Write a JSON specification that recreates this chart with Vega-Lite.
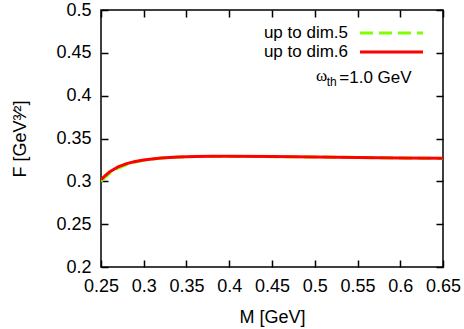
{
  "$schema": "https://vega.github.io/schema/vega-lite/v6.json",
  "width": 342,
  "height": 257,
  "autosize": {"type": "none"},
  "padding": {"left": 101, "top": 10, "right": 21, "bottom": 62},
  "background": "white",
  "config": {
    "view": {"stroke": "black", "strokeWidth": 1.5},
    "font": "Liberation Sans",
    "axis": {
      "domain": false,
      "grid": false,
      "tickColor": "black",
      "tickWidth": 1.5,
      "tickSize": -7,
      "labelPadding": 17,
      "labelFontSize": 18,
      "labelColor": "black",
      "labelFont": "Liberation Sans",
      "labelFlush": false,
      "labelOverlap": false,
      "titleFontSize": 18,
      "titleFontWeight": "normal",
      "titleColor": "black",
      "titleFont": "Liberation Sans"
    }
  },
  "datasets": {
    "curves": [
      {"M": 0.25, "F": 0.300, "series": "up to dim.5"},
      {"M": 0.255, "F": 0.3048, "series": "up to dim.5"},
      {"M": 0.26, "F": 0.3092, "series": "up to dim.5"},
      {"M": 0.27, "F": 0.3155, "series": "up to dim.5"},
      {"M": 0.28, "F": 0.3195, "series": "up to dim.5"},
      {"M": 0.29, "F": 0.3226, "series": "up to dim.5"},
      {"M": 0.30, "F": 0.3247, "series": "up to dim.5"},
      {"M": 0.31, "F": 0.3260, "series": "up to dim.5"},
      {"M": 0.32, "F": 0.3270, "series": "up to dim.5"},
      {"M": 0.34, "F": 0.3282, "series": "up to dim.5"},
      {"M": 0.36, "F": 0.3289, "series": "up to dim.5"},
      {"M": 0.38, "F": 0.3291, "series": "up to dim.5"},
      {"M": 0.40, "F": 0.3291, "series": "up to dim.5"},
      {"M": 0.45, "F": 0.3288, "series": "up to dim.5"},
      {"M": 0.50, "F": 0.3284, "series": "up to dim.5"},
      {"M": 0.55, "F": 0.3278, "series": "up to dim.5"},
      {"M": 0.60, "F": 0.3272, "series": "up to dim.5"},
      {"M": 0.65, "F": 0.3267, "series": "up to dim.5"},
      {"M": 0.25, "F": 0.302, "series": "up to dim.6"},
      {"M": 0.255, "F": 0.3068, "series": "up to dim.6"},
      {"M": 0.26, "F": 0.3110, "series": "up to dim.6"},
      {"M": 0.27, "F": 0.3170, "series": "up to dim.6"},
      {"M": 0.28, "F": 0.3207, "series": "up to dim.6"},
      {"M": 0.29, "F": 0.3232, "series": "up to dim.6"},
      {"M": 0.30, "F": 0.3250, "series": "up to dim.6"},
      {"M": 0.31, "F": 0.3262, "series": "up to dim.6"},
      {"M": 0.32, "F": 0.3272, "series": "up to dim.6"},
      {"M": 0.34, "F": 0.3284, "series": "up to dim.6"},
      {"M": 0.36, "F": 0.3290, "series": "up to dim.6"},
      {"M": 0.38, "F": 0.3292, "series": "up to dim.6"},
      {"M": 0.40, "F": 0.3292, "series": "up to dim.6"},
      {"M": 0.45, "F": 0.3289, "series": "up to dim.6"},
      {"M": 0.50, "F": 0.3285, "series": "up to dim.6"},
      {"M": 0.55, "F": 0.3279, "series": "up to dim.6"},
      {"M": 0.60, "F": 0.3273, "series": "up to dim.6"},
      {"M": 0.65, "F": 0.3268, "series": "up to dim.6"}
    ]
  },
  "layer": [
    {
      "data": {"name": "curves"},
      "transform": [{"filter": "datum.series == 'up to dim.5'"}],
      "mark": {"type": "line", "color": "#7fff00", "strokeWidth": 3, "strokeDash": [13, 6], "clip": true},
      "encoding": {
        "x": {"field": "M", "type": "quantitative",
              "scale": {"domain": [0.25, 0.65], "nice": false, "zero": false},
              "axis": {"orient": "bottom", "values": [0.25, 0.3, 0.35, 0.4, 0.45, 0.5, 0.55, 0.6, 0.65], "format": "~g", "title": "M [GeV]", "titlePadding": 13}},
        "y": {"field": "F", "type": "quantitative",
              "scale": {"domain": [0.2, 0.5], "nice": false, "zero": false},
              "axis": {"orient": "left", "values": [0.2, 0.25, 0.3, 0.35, 0.4, 0.45, 0.5], "format": "~g", "title": "F [GeV³⁄²]", "titlePadding": 26}}
      }
    },
    {
      "data": {"name": "curves"},
      "transform": [{"filter": "datum.series == 'up to dim.6'"}],
      "mark": {"type": "line", "color": "#ff0000", "strokeWidth": 3, "clip": true},
      "encoding": {
        "x": {"field": "M", "type": "quantitative",
              "axis": {"orient": "top", "values": [0.25, 0.3, 0.35, 0.4, 0.45, 0.5, 0.55, 0.6, 0.65], "labels": false, "title": null}},
        "y": {"field": "F", "type": "quantitative",
              "axis": {"orient": "right", "values": [0.2, 0.25, 0.3, 0.35, 0.4, 0.45, 0.5], "labels": false, "title": null}}
      }
    },
    {
      "data": {"values": [{}]},
      "mark": {"type": "text", "text": "up to dim.5", "align": "right", "baseline": "middle", "fontSize": 17, "font": "Liberation Sans", "color": "black"},
      "encoding": {
        "x": {"datum": 0.5389, "type": "quantitative", "axis": null},
        "y": {"datum": 0.4731, "type": "quantitative", "axis": null}
      }
    },
    {
      "data": {"values": [{}]},
      "mark": {"type": "text", "text": "up to dim.6", "align": "right", "baseline": "middle", "fontSize": 17, "font": "Liberation Sans", "color": "black"},
      "encoding": {
        "x": {"datum": 0.5389, "type": "quantitative", "axis": null},
        "y": {"datum": 0.4510, "type": "quantitative", "axis": null}
      }
    },
    {
      "data": {"values": [{}]},
      "mark": {"type": "rule", "color": "#7fff00", "strokeWidth": 3, "strokeDash": [13, 6]},
      "encoding": {
        "x": {"datum": 0.5529, "type": "quantitative", "axis": null},
        "x2": {"datum": 0.6266},
        "y": {"datum": 0.4731, "type": "quantitative", "axis": null}
      }
    },
    {
      "data": {"values": [{}]},
      "mark": {"type": "rule", "color": "#ff0000", "strokeWidth": 3},
      "encoding": {
        "x": {"datum": 0.5529, "type": "quantitative", "axis": null},
        "x2": {"datum": 0.6266},
        "y": {"datum": 0.4510, "type": "quantitative", "axis": null}
      }
    },
    {
      "data": {"values": [{}]},
      "mark": {"type": "text", "text": "ω", "align": "left", "baseline": "alphabetic", "fontSize": 17, "font": "Liberation Serif", "color": "black"},
      "encoding": {
        "x": {"datum": 0.5015, "type": "quantitative", "axis": null},
        "y": {"datum": 0.4171, "type": "quantitative", "axis": null}
      }
    },
    {
      "data": {"values": [{}]},
      "mark": {"type": "text", "text": "th", "align": "left", "baseline": "alphabetic", "fontSize": 12, "font": "Liberation Sans", "color": "black"},
      "encoding": {
        "x": {"datum": 0.5140, "type": "quantitative", "axis": null},
        "y": {"datum": 0.4113, "type": "quantitative", "axis": null}
      }
    },
    {
      "data": {"values": [{}]},
      "mark": {"type": "text", "text": "=1.0 GeV", "align": "left", "baseline": "alphabetic", "fontSize": 17, "font": "Liberation Sans", "color": "black"},
      "encoding": {
        "x": {"datum": 0.5287, "type": "quantitative", "axis": null},
        "y": {"datum": 0.4148, "type": "quantitative", "axis": null}
      }
    }
  ],
  "resolve": {"axis": {"x": "independent", "y": "independent"}}
}
